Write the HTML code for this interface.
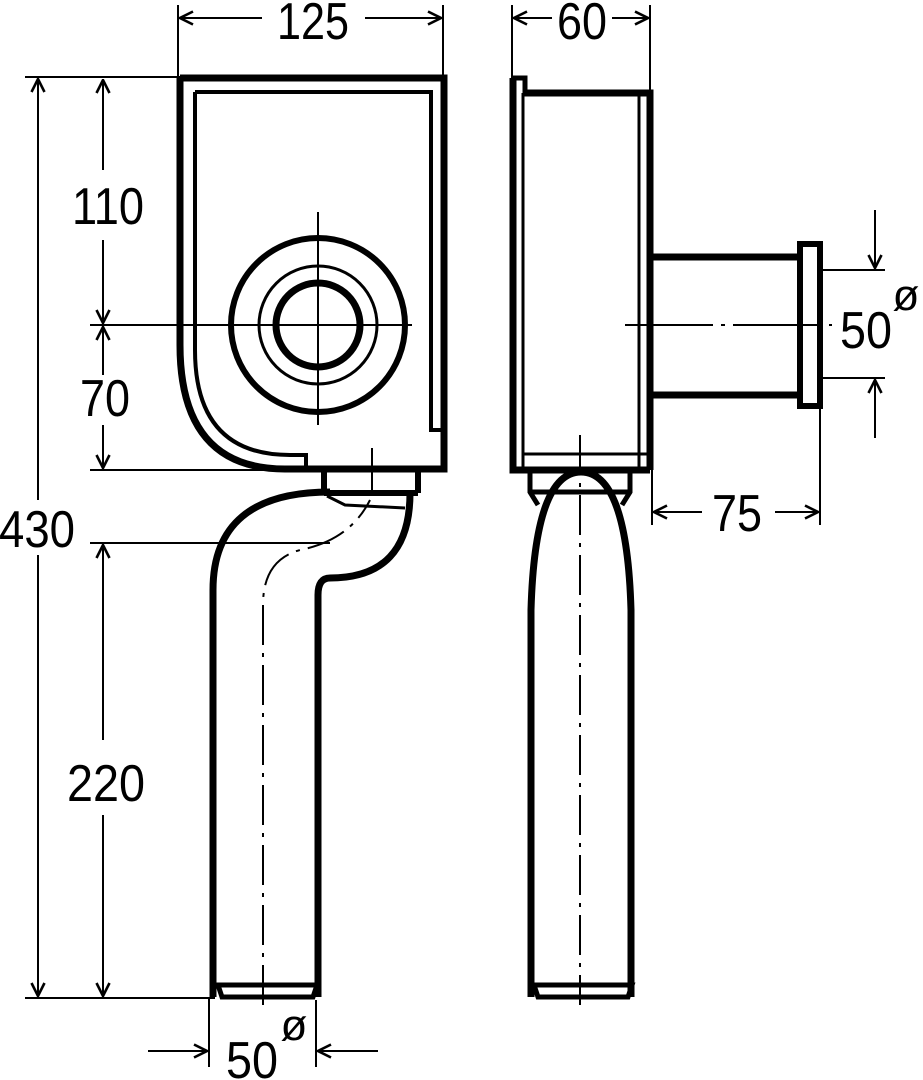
<!DOCTYPE html>
<html><head><meta charset="utf-8"><style>
html,body{margin:0;padding:0;background:#fff;}
svg{display:block;}
text{font-family:"Liberation Sans",sans-serif;font-size:52px;fill:#000;}
</style></head><body>
<svg width="923" height="1080" viewBox="0 0 923 1080" xmlns="http://www.w3.org/2000/svg">
<defs>
<marker id="a" viewBox="0 0 16 16" refX="15" refY="8" markerWidth="16" markerHeight="16" markerUnits="userSpaceOnUse" orient="auto">
<path d="M2,1.5 L15,8 L2,14.5" fill="none" stroke="#000" stroke-width="2.6"/></marker>
</defs>
<g fill="none" stroke="#000">
<path d="M180,78 H444 V469 H305 V469" stroke-width="7"/>
<path d="M180,78 V345 Q180,469 285,469 H305" stroke-width="7"/>
<path d="M195,92 H431 V430 H444" stroke-width="4"/>
<path d="M195,92 V350 Q195,455 290,455 H306 V469" stroke-width="4"/>
<circle cx="318" cy="325" r="87" stroke-width="6"/>
<circle cx="318" cy="325" r="59" stroke-width="3"/>
<circle cx="318" cy="325" r="42" stroke-width="7"/>
<line x1="318" y1="212" x2="318" y2="425" stroke-width="2"/>
<line x1="90" y1="325" x2="412" y2="325" stroke-width="2"/>
<path d="M324,469 V493 M418,469 V493 M324,493 H418" stroke-width="6"/>
<line x1="372" y1="448" x2="372" y2="490" stroke-width="2"/>
<path d="M213,997 V590 Q213,492 330,492" stroke-width="7"/>
<path d="M410,493 Q410,578 330,578 Q318,578 318,595 V997" stroke-width="7"/>
<path d="M327,496 L345,505 L405,508" stroke-width="3"/>
<path d="M218,985 L222,997 H313 L317,985 Z" stroke-width="5"/>
<path d="M263,1005 V605 Q263,560 300,550 Q350,540 370,500" stroke-width="2" stroke-dasharray="40,8,4,8"/>
<path d="M513,78 H525 V93" stroke-width="5"/>
<path d="M513,78 V470 H650 M523,93 H650 V470" stroke-width="7"/>
<path d="M523,93 V470 M639,93 V470 M523,454 H650" stroke-width="3"/>
<line x1="650" y1="5" x2="650" y2="93" stroke-width="2"/>
<line x1="512" y1="5" x2="512" y2="78" stroke-width="2"/>
<path d="M650,257 H800 M650,395 H800" stroke-width="7"/>
<rect x="800" y="244" width="20" height="162" stroke-width="6"/>
<line x1="625" y1="325" x2="832" y2="325" stroke-width="2" stroke-dasharray="88,8,4,8"/>
<line x1="822" y1="270" x2="885" y2="270" stroke-width="2"/>
<line x1="822" y1="378" x2="885" y2="378" stroke-width="2"/>
<line x1="875" y1="210" x2="875" y2="268" stroke-width="2" marker-end="url(#a)"/>
<line x1="875" y1="438" x2="875" y2="380" stroke-width="2" marker-end="url(#a)"/>
<path d="M530,470 V492 L538,505 M630,470 V492 L622,505 M530,492 H630" stroke-width="5"/>
<path d="M531,997 V610 Q535,472 581,472 Q627,472 631,610 V997" stroke-width="7"/>
<path d="M534,985 L538,997 H628 L632,985 Z" stroke-width="5"/>
<line x1="580" y1="435" x2="580" y2="1005" stroke-width="2" stroke-dasharray="40,8,4,8"/>
<line x1="652" y1="470" x2="652" y2="525" stroke-width="2"/>
<line x1="820" y1="408" x2="820" y2="525" stroke-width="2"/>
<line x1="702" y1="512" x2="654" y2="512" stroke-width="2" marker-end="url(#a)"/>
<line x1="775" y1="512" x2="818" y2="512" stroke-width="2" marker-end="url(#a)"/>
<line x1="552" y1="18" x2="514" y2="18" stroke-width="2" marker-end="url(#a)"/>
<line x1="612" y1="18" x2="648" y2="18" stroke-width="2" marker-end="url(#a)"/>
<line x1="178" y1="5" x2="178" y2="78" stroke-width="2"/>
<line x1="443" y1="5" x2="443" y2="78" stroke-width="2"/>
<line x1="262" y1="18" x2="180" y2="18" stroke-width="2" marker-end="url(#a)"/>
<line x1="365" y1="18" x2="441" y2="18" stroke-width="2" marker-end="url(#a)"/>
<line x1="25" y1="77" x2="180" y2="77" stroke-width="2"/>
<line x1="25" y1="998" x2="215" y2="998" stroke-width="2"/>
<line x1="38" y1="500" x2="38" y2="79" stroke-width="2" marker-end="url(#a)"/>
<line x1="38" y1="555" x2="38" y2="996" stroke-width="2" marker-end="url(#a)"/>
<line x1="103" y1="170" x2="103" y2="80" stroke-width="2" marker-end="url(#a)"/>
<line x1="103" y1="240" x2="103" y2="323" stroke-width="2" marker-end="url(#a)"/>
<line x1="103" y1="375" x2="103" y2="327" stroke-width="2" marker-end="url(#a)"/>
<line x1="103" y1="425" x2="103" y2="468" stroke-width="2" marker-end="url(#a)"/>
<line x1="90" y1="470" x2="290" y2="470" stroke-width="2"/>
<line x1="90" y1="543" x2="330" y2="543" stroke-width="2"/>
<line x1="103" y1="740" x2="103" y2="545" stroke-width="2" marker-end="url(#a)"/>
<line x1="103" y1="815" x2="103" y2="996" stroke-width="2" marker-end="url(#a)"/>
<line x1="209" y1="998" x2="209" y2="1067" stroke-width="2"/>
<line x1="316" y1="1000" x2="316" y2="1067" stroke-width="2"/>
<line x1="148" y1="1051" x2="207" y2="1051" stroke-width="2" marker-end="url(#a)"/>
<line x1="378" y1="1051" x2="318" y2="1051" stroke-width="2" marker-end="url(#a)"/>
</g>
<text x="313" y="39" text-anchor="middle" textLength="72" lengthAdjust="spacingAndGlyphs">125</text>
<text x="582" y="39" text-anchor="middle" textLength="50" lengthAdjust="spacingAndGlyphs">60</text>
<text x="37" y="547" text-anchor="middle" textLength="76" lengthAdjust="spacingAndGlyphs">430</text>
<text x="108" y="224" text-anchor="middle" textLength="72" lengthAdjust="spacingAndGlyphs">110</text>
<text x="105" y="416" text-anchor="middle" textLength="50" lengthAdjust="spacingAndGlyphs">70</text>
<text x="106" y="801" text-anchor="middle" textLength="78" lengthAdjust="spacingAndGlyphs">220</text>
<text x="737" y="531" text-anchor="middle" textLength="50" lengthAdjust="spacingAndGlyphs">75</text>
<text x="866" y="348" text-anchor="middle" textLength="52" lengthAdjust="spacingAndGlyphs">50</text>
<text x="906" y="310" text-anchor="middle" style="font-size:44px">ø</text>
<text x="252" y="1078" text-anchor="middle" textLength="52" lengthAdjust="spacingAndGlyphs">50</text>
<text x="294" y="1040" text-anchor="middle" style="font-size:44px">ø</text>
</svg>
</body></html>
